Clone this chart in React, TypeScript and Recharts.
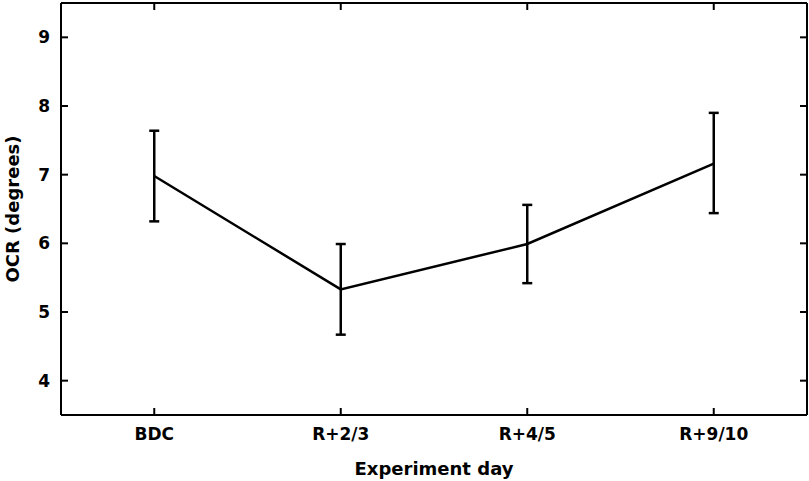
import React from 'react';
import { LineChart, Line, XAxis, YAxis, ErrorBar } from 'recharts';

const days = ['BDC', 'R+2/3', 'R+4/5', 'R+9/10'];
const ocrMean = [6.98, 5.33, 5.99, 7.16];
const ocrLower = [6.32, 4.67, 5.42, 6.44];
const ocrUpper = [7.64, 5.99, 6.56, 7.9];
const yTicks = [4, 5, 6, 7, 8, 9];

const data = days.map((day, i) => ({
  day,
  ocr: ocrMean[i],
  err: [ocrMean[i] - ocrLower[i], ocrUpper[i] - ocrMean[i]],
}));

const font = 'DejaVu Sans, sans-serif';
const tickStyle = { fill: '#000', fontSize: 17, fontWeight: 'bold' as const, fontFamily: font };
const axisStroke = { stroke: '#000', strokeWidth: 2 };
// mirror axes: keep tick lines, drop labels
const noLabel = () => <g />;

const App: React.FC = () => {
  return (
    <div style={{ position: 'absolute', left: 0, top: 0, background: '#fff' }}>
      <LineChart width={809} height={481} data={data} margin={{ top: 2, right: 1, left: 0, bottom: 0 }}>
        <XAxis
          dataKey="day"
          scale="band"
          height={66}
          tickSize={-7}
          tickMargin={20}
          tick={tickStyle}
          axisLine={axisStroke}
          tickLine={axisStroke}
          label={{
            value: 'Experiment day',
            position: 'insideBottom',
            offset: 6,
            style: { fill: '#000', fontSize: 18, fontWeight: 'bold', fontFamily: font },
          }}
        />
        <XAxis
          xAxisId="top"
          orientation="top"
          dataKey="day"
          scale="band"
          height={1}
          tickSize={-7}
          tick={noLabel}
          axisLine={axisStroke}
          tickLine={axisStroke}
        />
        <YAxis
          domain={[3.5, 9.5]}
          ticks={yTicks}
          width={61}
          tickSize={-7}
          tickMargin={18}
          tick={tickStyle}
          axisLine={axisStroke}
          tickLine={axisStroke}
          label={{
            value: 'OCR (degrees)',
            angle: -90,
            position: 'insideLeft',
            offset: 13,
            style: { textAnchor: 'middle', fill: '#000', fontSize: 18, fontWeight: 'bold', fontFamily: font },
          }}
        />
        <YAxis
          yAxisId="right"
          orientation="right"
          type="number"
          domain={[3.5, 9.5]}
          ticks={yTicks}
          width={1}
          tickSize={-7}
          tick={noLabel}
          axisLine={axisStroke}
          tickLine={axisStroke}
        />
        {/* invisible series so the right axis gets a scale */}
        <Line
          yAxisId="right"
          dataKey="ocr"
          stroke="none"
          dot={false}
          activeDot={false}
          legendType="none"
          isAnimationActive={false}
        />
        <Line
          type="linear"
          dataKey="ocr"
          stroke="#000"
          strokeWidth={2.5}
          dot={false}
          activeDot={false}
          isAnimationActive={false}
        >
          <ErrorBar dataKey="err" width={5} stroke="#000" strokeWidth={2.5} isAnimationActive={false} />
        </Line>
      </LineChart>
    </div>
  );
};

export default App;
